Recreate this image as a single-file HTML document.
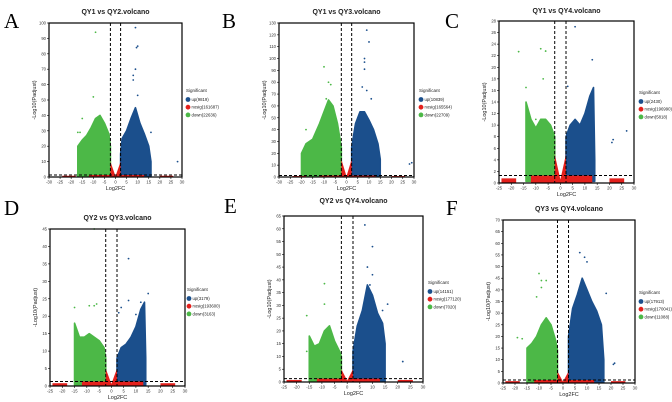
<!DOCTYPE html>
<html><head><meta charset="utf-8"><style>
html,body{margin:0;padding:0;background:#fff;}
svg{display:block;font-family:"Liberation Sans",sans-serif;}
</style></head><body>
<svg id="fig" width="672" height="402" viewBox="0 0 672 402"></svg>
<script>
// ---- data arrays (per panel) ----
const panelLetters = ["A","B","C","D","E","F"];
const panelTitles = ["QY1 vs QY2.volcano","QY1 vs QY3.volcano","QY1 vs QY4.volcano","QY2 vs QY3.volcano","QY2 vs QY4.volcano","QY3 vs QY4.volcano"];
const legendUp = ["up(9819)","up(10839)","up(2430)","up(3179)","up(14151)","up(17913)"];
const legendNosig = ["nosig(161687)","nosig(165564)","nosig(196990)","nosig(193600)","nosig(177120)","nosig(170041)"];
const legendDown = ["down(22636)","down(22709)","down(5818)","down(3163)","down(7020)","down(11088)"];
const xMins = [-30,-30,-25,-25,-25,-25];
const xMaxs = [30,30,30,30,30,30];
const yMaxs = [100,130,28,45,65,70];
const yStep = [10,10,2,5,5,5];
const fcThreshold = 2.3;
const padjThreshold = 1.3;
// envelope of the "down" clouds: x and max -log10 padj
const downX = [[-17,-15,-13,-11,-9,-7,-5,-3,-2.3],[-20,-18,-15,-12,-10,-8,-6,-4,-2.3],[-14,-12,-10,-8,-6,-4,-2.3],[-15,-13,-11,-9,-7,-5,-3,-2.3],[-15,-13,-11,-9,-7,-5,-3,-2.3],[-15,-13,-11,-9,-7,-5,-3,-2.3]];
const downY = [[20,24,27,32,38,40,35,28,20],[20,28,32,45,55,65,60,45,25],[14,11,9.5,11,11,10,8],[18,14,14,15,14,13,11,8],[18,14,15,20,22,16,12,10],[15,17,20,25,28,25,18,14]];
const upX = [[2.3,3,5,7,9,11,13,15,16],[2.3,4,6,8,10,12,14,15],[2.3,4,6,8,10,12,13.5,14],[2.3,4,6,8,10,12,13.5,14],[2.3,4,6,8,10,12,14,15],[2.3,4,6,8,10,12,14,16,17]];
const upY = [[15,25,30,38,45,35,28,20,10],[25,45,55,55,48,40,28,15],[8,10,11,10,12,15,16.5,4],[8,11,12,14,17,22,24,8],[12,22,28,38,34,27,23,15],[20,32,38,45,40,35,31,25,10]];
const vTop = [10,15,5,5,5,5];
const downOutX = [[-9,-10,-17,-16,-15],[-10,-8,-7,-18,-9],[-17,-8,-6,-7,-14,-12,-10],[-15,-9,-7,-6,-7],[-16,-9,-9,-16],[-10,-9,-7,-9,-11,-17,-19]];
const downOutY = [[94,52,29,29,38],[93,80,78,40,66],[22.7,23.2,22.8,18,16.5,10,11],[22.5,23,23,23.5,45],[26,38.5,30.5,12],[47,44,44,41,37,19,19.5]];
const upOutX = [[9,10,9.5,9,8,8,10,16,28,13],[9,10,8,8,8,7,9,11,28,29],[6,13,3,21,21.5,27,13],[7,15,12,7,4,3,10],[7,10,8,10,9,16,14,22],[7,9,10,18,21,21.5]];
const upOutY = [[97,85,84,70,66,63,53,29,10,2],[124,114,100,97,91,76,73,66,11,12],[27,21.3,16.7,7,7.5,9,2],[36.5,26.5,24,24.5,22.5,21,20.5],[61.5,53,45,42,38,30.5,28,8],[56,54,52,38.5,8,8.5]];
// layout (plot boxes)
const boxL=[49,279,499,50,284,503], boxR=[182,414,634,185,423,635], boxT=[23,23,21,229,216,220], boxB=[177,177,183,386,382,383];
const letterPos=[[4,28],[222,28],[445,28],[4,215],[224,213],[446,215]];
const titleY=[14,14,13,220,203,211];
const legendY=[92,92,94,291,284,294];
const legendX=[187,420,640,188,429,640];

const NS="http://www.w3.org/2000/svg";
const svg=document.getElementById("fig");
function mk(tag,attrs,parent){const e=document.createElementNS(NS,tag);for(const k in attrs)e.setAttribute(k,attrs[k]);(parent||svg).appendChild(e);return e;}
const GREEN="#4cb847",BLUE="#1b4f8c",RED="#e3201c";

for(let p=0;p<6;p++){
  const g=mk("g",{});
  
  
  const L=boxL[p],R=boxR[p],T=boxT[p],B=boxB[p];
  const xs=v=>L+(v-xMins[p])/(xMaxs[p]-xMins[p])*(R-L);
  const ys=v=>B-v/yMaxs[p]*(B-T);
  const lt=mk("text",{x:letterPos[p][0],y:letterPos[p][1],"font-family":"Liberation Serif,serif","font-size":"21"},g);
  lt.textContent=panelLetters[p];
  
  
  const tt=mk("text",{x:(L+R)/2,y:titleY[p],"text-anchor":"middle","font-size":"7","font-weight":"bold","fill":"#222"},g);
  tt.textContent=panelTitles[p];
  
  
  // down cloud
  let d=`M${xs(downX[p][0])},${ys(0.3)}`;
  for(let i=0;i<downX[p].length;i++) d+=` L${xs(downX[p][i])},${ys(downY[p][i])}`;
  d+=` L${xs(-fcThreshold)},${ys(0.3)} Z`;
  const dp=mk("path",{d:d,fill:GREEN,stroke:GREEN,"stroke-width":1.6,"stroke-linejoin":"round"},g);
  
  
  let u=`M${xs(fcThreshold)},${ys(0.3)}`;
  for(let i=0;i<upX[p].length;i++) u+=` L${xs(upX[p][i])},${ys(upY[p][i])}`;
  u+=` L${xs(upX[p][upX[p].length-1])},${ys(0.3)} Z`;
  const up=mk("path",{d:u,fill:BLUE,stroke:BLUE,"stroke-width":1.6,"stroke-linejoin":"round"},g);
  
  
  // red nosig
  let red=`M${xs(-12)},${ys(0)} L${xs(-12)},${ys(padjThreshold)} L${xs(-fcThreshold)},${ys(padjThreshold)} L${xs(-fcThreshold)},${ys(vTop[p])} L${xs(0)},${ys(0.6)} L${xs(fcThreshold)},${ys(vTop[p])} L${xs(fcThreshold)},${ys(padjThreshold)} L${xs(13)},${ys(padjThreshold)} L${xs(13)},${ys(0)} Z`;
  const rp=mk("path",{d:red,fill:RED},g);
  
  
  [[-24,-18],[20,26]].forEach(r=>{const s=mk("rect",{x:xs(r[0]),y:ys(0.8),width:xs(r[1])-xs(r[0]),height:ys(0)-ys(0.8)+0.5,fill:RED},g);
    
    });
  for(let i=0;i<downOutX[p].length;i++){const c=mk("circle",{cx:xs(downOutX[p][i]),cy:ys(downOutY[p][i]),r:0.9,fill:GREEN},g);
    
    }
  for(let i=0;i<upOutX[p].length;i++){const c=mk("circle",{cx:xs(upOutX[p][i]),cy:ys(upOutY[p][i]),r:0.9,fill:BLUE},g);
    
    }
  // threshold lines
  [-fcThreshold,fcThreshold].forEach(v=>{const l=mk("line",{x1:xs(v),x2:xs(v),y1:T,y2:B,stroke:"#000","stroke-width":1,"stroke-dasharray":"3,2"},g);
    
    });
  const hl=mk("line",{x1:L,x2:R,y1:ys(padjThreshold),y2:ys(padjThreshold),stroke:"#000","stroke-width":1,"stroke-dasharray":"3,2"},g);
  
  
  const box=mk("rect",{x:L,y:T,width:R-L,height:B-T,fill:"none",stroke:"#000","stroke-width":1.2},g);
  
  
  // ticks
  for(let v=0;v<=yMaxs[p]+0.01;v+=yStep[p]){
    mk("line",{x1:L-2,x2:L,y1:ys(v),y2:ys(v),stroke:"#000","stroke-width":0.6},g);
    const t=mk("text",{x:L-3,y:ys(v)+1.5,"text-anchor":"end","font-size":"4.2",fill:"#333"},g);t.textContent=v;
    
    
  }
  for(let v=xMins[p];v<=xMaxs[p];v+=5){
    mk("line",{x1:xs(v),x2:xs(v),y1:B,y2:B+2,stroke:"#000","stroke-width":0.6},g);
    const t=mk("text",{x:xs(v),y:B+6.5,"text-anchor":"middle","font-size":"4.2",fill:"#333"},g);t.textContent=v;
    
    
  }
  const xl=mk("text",{x:(L+R)/2,y:B+13,"text-anchor":"middle","font-size":"5.5",fill:"#222"},g);xl.textContent="Log2FC";
  
  
  const yl=mk("text",{x:0,y:0,"text-anchor":"middle","font-size":"5.5",fill:"#222",transform:`translate(${L-13},${(T+B)/2}) rotate(-90)`},g);yl.textContent="-Log10(Padjust)";
  
  
  // legend
  const lx=legendX[p],ly=legendY[p];
  const lg=mk("text",{x:lx-1,y:ly,"font-size":"4.5",fill:"#222"},g);lg.textContent="Significant";
  
  
  const labs=[legendUp[p],legendNosig[p],legendDown[p]],cols=[BLUE,RED,GREEN];
  for(let i=0;i<3;i++){
    const c=mk("circle",{cx:lx+1,cy:ly+7.5+i*7.7,r:2.4,fill:cols[i]},g);
    
    
    const t=mk("text",{x:lx+4.5,y:ly+9+i*7.7,"font-size":"4.3",fill:"#222"},g);t.textContent=labs[i];
    
    
  }
}
</script>
</body></html>
